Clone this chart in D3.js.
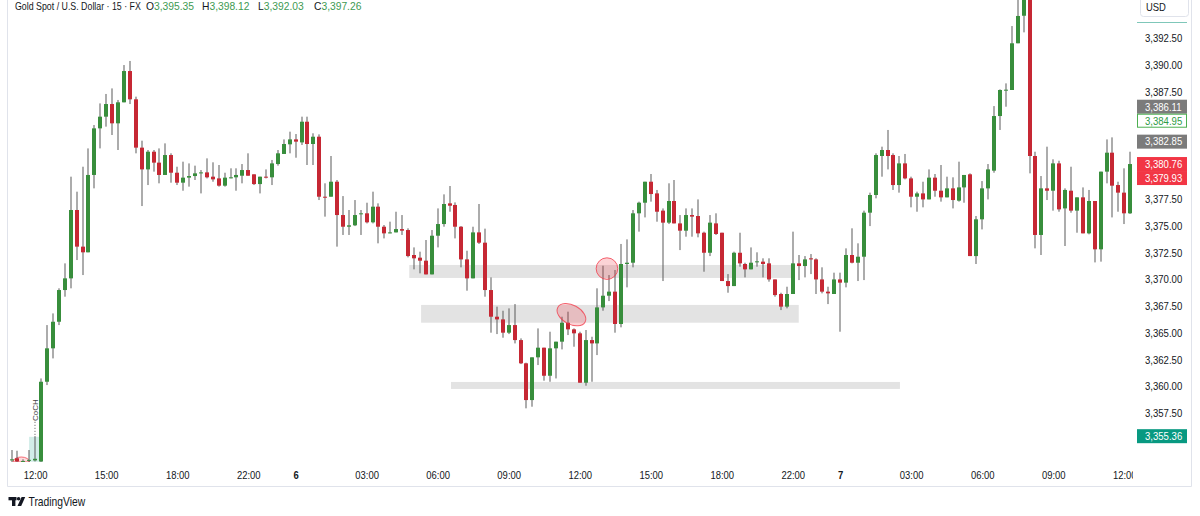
<!DOCTYPE html>
<html><head><meta charset="utf-8">
<script src="https://cdn.jsdelivr.net/npm/d3@7"></script>
<style>
html,body{margin:0;padding:0;background:#fff;overflow:hidden;}
svg{display:block;font-family:"Liberation Sans",Arial,sans-serif;}
</style></head><body>
<svg id="chart" width="1200" height="516"></svg>
<script>
// ---------- DATA (15-minute candles, Gold Spot / USD) ----------
const opens = [3353.10,3353.30,3353.00,3353.10,3353.10,3353.00,3360.44,3363.56,3366.04,3369.00,
3370.09,3376.47,3373.05,3372.52,3379.74,3384.09,3385.18,3386.36,3384.56,3386.52,
3389.44,3386.80,3382.29,3380.26,3381.91,3380.89,3379.74,3381.60,3379.95,3379.02,
3379.49,3379.64,3379.89,3379.98,3379.58,3379.42,3378.74,3379.49,3379.52,3379.67,
3380.20,3379.80,3378.89,3379.58,3379.52,3380.76,3381.70,3382.60,3383.06,3382.78,
3384.71,3382.63,3383.31,3377.71,3377.71,3379.11,3376.00,3374.91,3375.04,3376.10,
3376.16,3375.32,3376.78,3374.91,3374.32,3374.38,3374.69,3374.60,3372.27,3372.02,
3371.74,3370.46,3374.07,3375.16,3377.09,3376.94,3374.91,3371.86,3370.09,3374.38,
3373.42,3369.00,3366.51,3366.26,3365.02,3365.73,3364.33,3362.16,3358.73,3362.72,
3363.62,3361.00,3363.56,3364.18,3365.95,3365.33,3364.96,3360.35,3364.33,3364.02,
3367.38,3368.47,3368.85,3365.83,3371.43,3371.55,3376.16,3377.15,3379.11,3378.02,
3376.41,3375.29,3377.31,3375.22,3374.54,3376.00,3375.91,3374.35,3372.48,3375.22,
3374.35,3369.84,3369.37,3372.48,3371.43,3370.93,3371.62,3371.65,3371.49,3369.99,
3368.63,3367.45,3368.63,3371.49,3371.24,3371.96,3371.86,3369.99,3368.85,3368.63,
3369.99,3369.69,3372.27,3371.55,3372.11,3376.22,3377.87,3381.51,3382.07,3381.60,
3378.80,3380.82,3379.42,3377.71,3378.02,3377.46,3379.49,3378.27,3377.65,3378.49,
3377.34,3378.58,3379.80,3372.17,3375.60,3378.49,3380.14,3385.24,3387.67,3387.67,
3392.03,3394.60,3397.20,3381.51,3374.14,3378.49,3378.27,3380.82,3376.62,3378.27,
3376.41,3377.65,3374.29,3377.31,3372.80,3380.05,3381.82,3378.80,3378.09,3376.16];

const highs = [3354.07,3354.00,3353.20,3354.07,3355.36,3360.75,3365.73,3366.82,3369.16,3371.49,
3379.58,3378.18,3380.51,3382.22,3384.40,3386.42,3387.30,3387.82,3386.74,3390.00,
3390.38,3387.05,3382.94,3382.07,3382.07,3382.22,3382.69,3381.76,3380.51,3380.98,
3380.82,3380.61,3380.20,3381.29,3380.92,3380.67,3379.95,3380.36,3380.36,3380.76,
3381.76,3379.80,3379.58,3380.26,3381.14,3382.07,3383.06,3383.78,3383.56,3385.18,
3385.18,3383.63,3383.53,3378.96,3381.51,3379.27,3377.77,3376.47,3377.40,3376.47,
3377.15,3378.18,3377.09,3375.07,3375.38,3376.31,3376.00,3374.76,3372.98,3372.58,
3373.67,3374.60,3376.62,3377.93,3378.71,3377.18,3374.97,3372.67,3374.91,3377.03,
3374.73,3370.18,3367.45,3367.07,3367.29,3367.69,3364.49,3362.22,3362.72,3365.42,
3363.62,3365.11,3364.18,3366.51,3366.98,3365.42,3365.11,3365.27,3364.64,3369.16,
3371.27,3370.40,3370.87,3373.30,3373.73,3376.47,3377.25,3379.11,3379.83,3378.34,
3376.62,3378.96,3379.27,3376.00,3376.62,3376.62,3377.46,3374.45,3376.00,3376.16,
3374.35,3370.49,3372.58,3374.35,3371.55,3372.98,3372.52,3371.96,3371.96,3369.99,
3368.75,3369.31,3374.45,3372.27,3372.17,3372.36,3371.96,3371.12,3369.31,3370.62,
3370.62,3372.89,3374.76,3373.36,3376.41,3378.09,3381.76,3382.38,3383.94,3381.76,
3381.51,3381.70,3379.58,3378.18,3379.11,3380.26,3379.83,3380.67,3379.58,3379.52,
3380.98,3379.74,3379.89,3375.91,3379.17,3380.76,3386.17,3387.73,3388.29,3393.64,
3396.50,3398.50,3398.50,3381.91,3379.64,3382.38,3381.20,3381.07,3378.49,3380.51,
3377.65,3378.58,3378.34,3377.31,3380.05,3383.06,3383.25,3379.11,3380.36,3381.91];

const lows = [3352.95,3352.95,3352.95,3352.95,3353.00,3352.95,3360.13,3362.62,3365.73,3368.38,
3369.16,3371.80,3370.40,3372.52,3378.49,3382.22,3384.25,3383.47,3382.07,3386.52,
3386.36,3381.76,3376.84,3378.80,3380.05,3378.96,3379.74,3379.02,3378.80,3378.27,
3378.65,3379.27,3378.02,3379.42,3379.11,3378.65,3378.65,3379.42,3378.27,3378.96,
3379.67,3378.80,3378.02,3379.42,3378.80,3380.61,3381.70,3381.76,3381.35,3382.54,
3380.67,3380.67,3377.40,3375.85,3377.71,3373.05,3374.14,3374.14,3374.97,3374.14,
3375.22,3375.22,3373.36,3373.82,3374.29,3374.38,3374.14,3372.05,3370.93,3370.56,
3370.46,3370.46,3372.98,3374.91,3376.31,3373.82,3371.12,3368.94,3370.09,3373.30,
3368.38,3365.02,3364.89,3364.55,3364.89,3364.02,3362.09,3357.96,3358.11,3362.00,
3360.54,3360.44,3360.75,3363.46,3364.80,3363.71,3360.35,3360.07,3360.44,3362.93,
3367.07,3367.97,3365.02,3365.52,3369.25,3371.12,3374.45,3375.78,3377.25,3375.38,
3369.84,3375.16,3375.22,3372.73,3373.98,3373.98,3373.92,3370.71,3372.17,3374.14,
3369.84,3368.75,3369.37,3371.18,3370.18,3370.93,3371.18,3370.18,3369.78,3368.38,
3367.13,3367.29,3368.63,3369.93,3370.18,3370.49,3368.63,3368.69,3367.69,3368.63,
3365.11,3369.25,3371.49,3369.84,3369.93,3374.97,3377.56,3379.58,3380.26,3378.34,
3378.09,3379.33,3376.72,3376.31,3376.72,3377.46,3377.71,3377.25,3377.65,3376.62,
3377.25,3377.15,3372.17,3371.43,3374.66,3377.46,3379.95,3383.94,3386.11,3387.67,
3392.03,3393.05,3379.89,3372.89,3372.27,3377.40,3376.41,3376.31,3373.11,3376.22,
3374.35,3374.29,3374.20,3371.58,3371.65,3378.96,3375.78,3376.31,3375.16,3376.10];

const closes = [3353.20,3353.00,3353.05,3353.15,3353.25,3360.44,3363.56,3366.04,3369.00,3370.09,
3376.47,3373.05,3372.52,3379.74,3384.09,3385.18,3386.36,3384.56,3386.52,3389.44,
3386.80,3382.29,3380.26,3381.91,3380.89,3379.74,3381.60,3379.95,3379.02,3379.49,
3379.64,3379.89,3379.98,3379.52,3379.33,3378.74,3379.49,3379.52,3379.74,3380.20,
3379.67,3378.89,3379.58,3379.52,3380.82,3381.76,3382.63,3383.06,3382.85,3384.71,
3382.63,3383.31,3377.71,3377.68,3379.11,3376.00,3374.91,3375.04,3376.00,3376.16,
3375.32,3376.78,3374.91,3374.29,3374.38,3374.69,3374.54,3372.17,3371.96,3371.74,
3370.46,3374.07,3375.16,3377.03,3376.87,3374.91,3371.86,3370.09,3374.38,3373.42,
3369.00,3366.51,3366.26,3365.02,3365.73,3364.33,3362.16,3358.73,3362.72,3363.62,
3361.00,3363.56,3364.18,3365.95,3365.33,3364.96,3360.35,3364.33,3364.02,3367.38,
3368.47,3368.85,3365.83,3371.43,3371.55,3376.16,3377.15,3379.11,3377.96,3376.31,
3375.29,3377.31,3375.22,3374.54,3376.00,3375.85,3374.29,3372.48,3375.29,3374.23,
3369.84,3369.37,3372.48,3371.49,3370.93,3371.55,3371.68,3371.43,3369.99,3368.53,
3367.45,3368.63,3371.49,3371.24,3371.86,3371.86,3369.99,3368.85,3368.69,3369.99,
3369.69,3372.27,3371.55,3372.11,3376.22,3377.87,3381.60,3382.07,3381.51,3378.80,
3380.82,3379.42,3377.71,3378.02,3377.46,3379.49,3378.27,3377.65,3378.49,3377.40,
3378.58,3379.74,3372.17,3375.60,3378.49,3380.26,3385.24,3387.67,3387.70,3392.03,
3394.58,3397.26,3381.51,3374.14,3378.49,3378.27,3380.82,3376.53,3378.34,3376.41,
3377.65,3374.29,3377.31,3372.80,3380.05,3381.82,3378.74,3378.09,3376.16,3380.76];

const timeTickIndex  = [4,16,28,40,48,60,72,84,96,108,120,132,140,152,164,176,188];
const timeTickLabels = ["12:00","15:00","18:00","22:00","6","03:00","06:00","09:00","12:00","15:00","18:00","22:00","7","03:00","06:00","09:00","12:00"];

const priceTicks = [3357.5,3360,3362.5,3365,3367.5,3370,3372.5,3375,3377.5,3387.5,3390,3392.5];

const markerValues = [3386.11,3384.95,3382.85,3380.76,3379.93,3355.36];
const markerKinds  = ["gray","outline","gray","red","red","teal"];

const headerTitle = "Gold Spot / U.S. Dollar · 15 · FX";
const headerKeys  = ["O","H","L","C"];
const headerVals  = [3395.35,3398.12,3392.03,3397.26];

// drawn zones: candle-index span and price span
const zoneFrom   = [67.2,69.2,74.25];
const zoneTo     = [131.9,133.0,150.1];
const zoneTop    = [3371.34,3367.61,3360.42];
const zoneBottom = [3370.13,3365.95,3359.77];

// ---------- CHART ----------
const W = 1200, H = 516;
const plotRight = 1136, plotBottom = 462;
const svg = d3.select('#chart');
const n = opens.length;

const x = d3.scaleLinear().domain([0, n - 1]).range([11.5, 11.5 + (n - 1) * 5.919]);
const y = d3.scaleLinear().domain([3352.95, 3396.07]).range([plotBottom, 0]);

const UP = '#388e3c', DOWN = '#c62834', WICK = '#5a5a5a';
const fmt = d3.format(',.2f');

// horizontal squeeze via transform (keeps anchor point fixed at the text's own x=0)
function squeezeT(sel, k) {
  sel.each(function () {
    const ex = this.getAttribute('transform') || '';
    this.setAttribute('transform', ex + ` scale(${k},1)`);
  });
}

svg.append('rect').attr('width', W).attr('height', H).attr('fill', '#fff');

const defs = svg.append('defs');
defs.append('clipPath').attr('id', 'plotClip')
  .append('rect').attr('x', 8).attr('y', 0).attr('width', plotRight - 8).attr('height', plotBottom);
defs.append('clipPath').attr('id', 'timeClipLocal')
  .append('rect').attr('x', 8).attr('y', -6).attr('width', plotRight - 11).attr('height', 24);

// frame
svg.append('path').attr('d', 'M7.5,0V486.5H1191.5V0').attr('fill', 'none').attr('stroke', '#e0e3eb');

const plot = svg.append('g').attr('clip-path', 'url(#plotClip)');

// zones
plot.append('g').selectAll('rect').data(zoneFrom).join('rect')
  .attr('x', (d, i) => x(d))
  .attr('width', (d, i) => x(zoneTo[i]) - x(d))
  .attr('y', (d, i) => y(zoneTop[i]))
  .attr('height', (d, i) => y(zoneBottom[i]) - y(zoneTop[i]))
  .attr('fill', '#e3e3e3');

// CHoCH drawing
const choch = plot.append('g');
choch.append('rect')
  .attr('x', x(2.97)).attr('width', x(5.32) - x(2.97))
  .attr('y', y(3355.3)).attr('height', y(3352.97) - y(3355.3))
  .attr('fill', 'rgba(8,153,129,0.18)');
choch.append('line')
  .attr('x1', x(3.97)).attr('x2', x(3.97))
  .attr('y1', y(3356.7)).attr('y2', y(3355.3))
  .attr('stroke', '#555').attr('stroke-dasharray', '1,2');
choch.append('text')
  .attr('transform', `translate(${x(4.55)},${y(3357.8)}) rotate(-90)`)
  .attr('text-anchor', 'middle').attr('font-size', 8).attr('fill', '#444')
  .text('CoCH');
choch.append('path')
  .attr('d', `M${x(0.25)},${plotBottom} A${(x(3.05) - x(0.25)) / 2},5 0 0 1 ${x(3.05)},${plotBottom} Z`)
  .attr('fill', 'rgba(242,54,69,0.18)').attr('stroke', 'rgba(242,54,69,0.7)');

// candles
const idx = d3.range(n);
const cg = plot.append('g');
cg.selectAll('rect.wick').data(idx).join('rect').attr('class', 'wick')
  .attr('x', i => Math.round(x(i)) - 0.5)
  .attr('width', 1)
  .attr('y', i => y(highs[i]))
  .attr('height', i => Math.max(1, y(lows[i]) - y(highs[i])))
  .attr('fill', WICK);
cg.selectAll('rect.body').data(idx).join('rect').attr('class', 'body')
  .attr('x', i => Math.round(x(i)) - 2)
  .attr('width', 4)
  .attr('y', i => y(Math.max(opens[i], closes[i])))
  .attr('height', i => Math.max(1, Math.abs(y(opens[i]) - y(closes[i]))))
  .attr('fill', i => closes[i] >= opens[i] ? UP : DOWN);

// highlight shapes
plot.append('ellipse')
  .attr('cx', x(94.6)).attr('cy', y(3366.7)).attr('rx', 15.5).attr('ry', 9.5)
  .attr('transform', `rotate(28,${x(94.6)},${y(3366.7)})`)
  .attr('fill', 'rgba(242,54,69,0.22)').attr('stroke', 'rgba(242,54,69,0.75)');
plot.append('circle')
  .attr('cx', x(100.6)).attr('cy', y(3371.0)).attr('r', 10.8)
  .attr('fill', 'rgba(242,54,69,0.22)').attr('stroke', 'rgba(242,54,69,0.75)');

// price axis
const yAxis = svg.append('g').attr('transform', 'translate(1145,0)')
  .call(d3.axisRight(y).tickValues(priceTicks).tickSize(0).tickPadding(0).tickFormat(fmt));
yAxis.select('.domain').remove();
yAxis.selectAll('text').attr('font-size', 11).attr('fill', '#131722')
  .attr('font-family', '"Liberation Sans",Arial,sans-serif');
squeezeT(yAxis.selectAll('text'), 0.87);

// USD box
svg.append('rect').attr('x', 1140.5).attr('y', -3.5).attr('width', 48).attr('height', 20).attr('rx', 3)
  .attr('fill', '#fff').attr('stroke', '#e0e3eb');
svg.append('g').attr('transform', 'translate(1146,11)')
  .append('text').attr('font-size', 10.5).attr('fill', '#131722').attr('transform', 'scale(0.9,1)').text('USD');
svg.append('line').attr('x1', 1137).attr('x2', 1187).attr('y1', 22.5).attr('y2', 22.5)
  .attr('stroke', '#7fc7b9').attr('stroke-width', 1);

// price markers
const kindStyle = {
  gray:    {fill: '#7b7b7b', stroke: 'none', text: '#fff'},
  outline: {fill: '#fff', stroke: '#4caf50', text: '#2e9b46'},
  red:     {fill: '#f23645', stroke: 'none', text: '#fff'},
  teal:    {fill: '#089981', stroke: 'none', text: '#fff'}
};
const mH = 14;
let prevBottom = -Infinity;
const markerY = markerValues.map(v => {
  let c = y(v);
  if (c - mH / 2 < prevBottom) c = prevBottom + mH / 2;
  prevBottom = c + mH / 2;
  return c;
});
const mg = svg.append('g').selectAll('g').data(markerValues).join('g')
  .attr('transform', (d, i) => `translate(0,${markerY[i]})`);
mg.append('rect')
  .attr('x', (d, i) => kindStyle[markerKinds[i]].stroke === 'none' ? 1137 : 1137.5)
  .attr('y', (d, i) => kindStyle[markerKinds[i]].stroke === 'none' ? -mH / 2 : -mH / 2 + 0.5)
  .attr('width', (d, i) => kindStyle[markerKinds[i]].stroke === 'none' ? 50 : 49)
  .attr('height', (d, i) => kindStyle[markerKinds[i]].stroke === 'none' ? mH : mH - 1)
  .attr('fill', (d, i) => kindStyle[markerKinds[i]].fill)
  .attr('stroke', (d, i) => kindStyle[markerKinds[i]].stroke);
const mt = mg.append('g').attr('transform', 'translate(1145,0)')
  .append('text').attr('dy', '0.35em').attr('font-size', 11)
  .attr('fill', (d, i) => kindStyle[markerKinds[i]].text)
  .text(d => fmt(d));
squeezeT(mt, 0.87);

// time axis
const xAxis = svg.append('g').attr('transform', `translate(0,${plotBottom + 6})`).attr('clip-path', 'url(#timeClipLocal)')
  .call(d3.axisBottom(x).tickValues(timeTickIndex).tickSize(0).tickPadding(3)
    .tickFormat((d, i) => timeTickLabels[i]));
xAxis.select('.domain').remove();
xAxis.selectAll('text').attr('font-size', 11).attr('fill', '#131722')
  .attr('font-family', '"Liberation Sans",Arial,sans-serif')
  .attr('font-weight', (d, i) => timeTickLabels[i].length === 1 ? 'bold' : 'normal');
squeezeT(xAxis.selectAll('text'), 0.86);

// header
const head = svg.append('g');
head.append('g').attr('transform', 'translate(15,9.5)')
  .append('text').attr('font-size', 10.5).attr('fill', '#131722')
  .attr('transform', 'scale(0.84,1)').text(headerTitle);
const hx = [146, 202, 258, 314];
headerKeys.forEach((k, i) => {
  const t = head.append('g').attr('transform', `translate(${hx[i]},9.5)`)
    .append('text').attr('font-size', 10.5).attr('transform', 'scale(0.98,1)');
  t.append('tspan').attr('fill', '#131722').text(k);
  t.append('tspan').attr('fill', '#3d9a52').text(fmt(headerVals[i]));
});

// TradingView logo
const logo = svg.append('g').attr('fill', '#131722');
logo.append('rect').attr('x', 8.5).attr('y', 497).attr('width', 8).attr('height', 3.3);
logo.append('rect').attr('x', 12).attr('y', 497).attr('width', 3.4).attr('height', 9);
logo.append('circle').attr('cx', 18.6).attr('cy', 498.8).attr('r', 1.8);
logo.append('path').attr('d', 'M17.5,506 L21.6,497 L25.2,497 L21.2,506 Z');
svg.append('g').attr('transform', 'translate(28.5,505.5)')
  .append('text').attr('font-size', 12).attr('fill', '#131722')
  .attr('transform', 'scale(0.86,1)').text('TradingView');
</script>
</body></html>
